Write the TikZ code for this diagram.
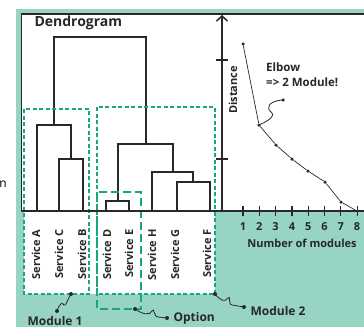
\documentclass[tikz,border=0pt]{standalone}
\usepackage{fontspec}
\setmainfont{Open Sans}
\usetikzlibrary{arrows.meta}

\definecolor{tealbg}{RGB}{152,212,196}
\definecolor{modgreen}{RGB}{22,166,132}
\definecolor{inkgrey}{RGB}{40,40,40}

\begin{document}
\begin{tikzpicture}[x=1pt, y=-1pt, font=\bfseries, text=inkgrey,
  dend/.style={draw=inkgrey, line width=2.1pt},
  modbox/.style={draw=modgreen, line width=1.8pt, dash pattern=on 4pt off 2.5pt},
  optbox/.style={draw=modgreen, line width=1.8pt, dash pattern=on 8pt off 4pt},
  dot/.style={circle, fill=inkgrey, inner sep=0pt, minimum size=4pt},
  svc/.style={rotate=90, anchor=east, font=\fontsize{11}{12}\selectfont\bfseries},
  wiggle/.style={draw=inkgrey, line width=0.8pt}]
  \useasboundingbox (0,0) rectangle (364,327);

  % Background panels
  \fill[tealbg] (16,9) rectangle (364,327);
  \fill[white] (21,14) rectangle (364,211);
  \fill[white] (24,211) rectangle (215,294);
  \draw[inkgrey, line width=1.2pt] (21.5,211) -- (21.5,14) -- (364,14);

  % cut-off letter on the left
  \node[font=\fontsize{12}{12}\selectfont, text=black] (cut) at (3,184) {n};

  % Title
  \node[anchor=west, font=\fontsize{14}{15}\selectfont\bfseries] (title) at (31,23) {Dendrogram};

  % Dendrogram
  \draw[dend] (59,211) |- (83,159) -- (83,211);
  \draw[dend] (37,211) |- (71,125) -- (71,159);
  \draw[dend] (54,125) |- (146,37) -- (146,144);
  \draw[dend] (106,211) |- (129,201) -- (129,211);
  \draw[dend] (118,201) |- (173,144) -- (173,172);
  \draw[dend] (152,211) |- (193,172) -- (193,182);
  \draw[dend] (177,211) |- (210,182) -- (210,211);

  % Leaves
  \node[svc] (svcA) at (36,226) {Service A};
  \node[svc] (svcC) at (59,226) {Service C};
  \node[svc] (svcB) at (82,226) {Service B};
  \node[svc] (svcD) at (107,226) {Service D};
  \node[svc] (svcE) at (129,226) {Service E};
  \node[svc] (svcH) at (152,226) {Service H};
  \node[svc] (svcG) at (175,226) {Service G};
  \node[svc] (svcF) at (207,226) {Service F};

  % Module boxes
  \draw[modbox] (24,109) rectangle (89,294);
  \draw[modbox] (97,107) rectangle (215,294);
  \draw[optbox] (97,192) rectangle (141,309);

  % Elbow plot
  \draw[inkgrey, line width=1.8pt] (21,211) -- (364,211);
  \draw[inkgrey, line width=1.8pt, -{Straight Barb[length=5pt, width=11pt, line width=1.5pt]}] (222,211) -- (222,15);
  \foreach \y in {60,159}
    \draw[inkgrey, line width=1.5pt] (216,\y) -- (228,\y);
  \foreach \i in {1,...,8} {
    \draw[inkgrey, line width=1.2pt] (243+16.3*\i-16.3,206) -- (243+16.3*\i-16.3,216);
    \node[font=\fontsize{11}{12}\selectfont\bfseries] (n\i) at (243+16.3*\i-16.3,227) {\i};
  }
  \node[rotate=90, font=\fontsize{11}{12}\selectfont\bfseries] (dist) at (233,90) {Distance};
  \node[font=\fontsize{11}{12}\selectfont\bfseries] (xlab) at (302,243) {Number of modules};

  \node[dot, minimum size=3.5pt] (p1) at (243,44) {};
  \node[dot, minimum size=3.5pt] (p2) at (259,125) {};
  \node[dot, minimum size=3.5pt] (p3) at (276,145) {};
  \node[dot, minimum size=3.5pt] (p4) at (292,159) {};
  \node[dot, minimum size=3.5pt] (p5) at (308,171) {};
  \node[dot, minimum size=3.5pt] (p6) at (325,182) {};
  \node[dot, minimum size=3.5pt] (p7) at (341,202) {};
  \coordinate (p8) at (357,211);
  \draw[inkgrey, line width=0.7pt] (p1) -- (p2) -- (p3) -- (p4) -- (p5) -- (p6) -- (p7) -- (p8);

  % Elbow note
  \node[anchor=north west, align=left, inner sep=0pt,
        font=\fontsize{11.5}{15}\selectfont\bfseries] (elbow) at (266,63) {Elbow\\=> 2 Module!};
  \node[dot, minimum size=3.5pt] (elbowdot) at (283,100) {};
  \draw[wiggle] (p2.center) .. controls (268,121) and (276,116) .. (271,112)
    .. controls (266,108) and (268,101) .. (elbowdot.center);

  % Module labels
  \node[dot] (m1a) at (71,294) {};
  \node[dot] (m1b) at (57,311) {};
  \node[anchor=west, font=\fontsize{12}{13}\selectfont\bfseries] (mod1) at (24,321) {Module 1};
  \draw[wiggle] (m1b.center) .. controls (60,303) and (62,302) .. (64,305)
    .. controls (66,307) and (67,300) .. (m1a.center);

  \node[dot] (opta) at (135,309) {};
  \node[dot] (optb) at (167,318) {};
  \node[anchor=west, font=\fontsize{12}{13}\selectfont\bfseries] (opt) at (170,318) {Option};
  \draw[wiggle] (opta.center) .. controls (142,314) and (150,316) .. (152,311)
    .. controls (154,306) and (154,318) .. (158,317) -- (optb.center);

  \node[dot] (m2a) at (215,294) {};
  \node[dot] (m2b) at (244,307) {};
  \node[anchor=west, font=\fontsize{12}{13}\selectfont\bfseries] (mod2) at (247,311) {Module 2};
  \draw[wiggle] (m2a.center) .. controls (220,300) and (225,303) .. (228,298)
    .. controls (231,294) and (228,306) .. (232,305) -- (m2b.center);
\end{tikzpicture}
\end{document}
